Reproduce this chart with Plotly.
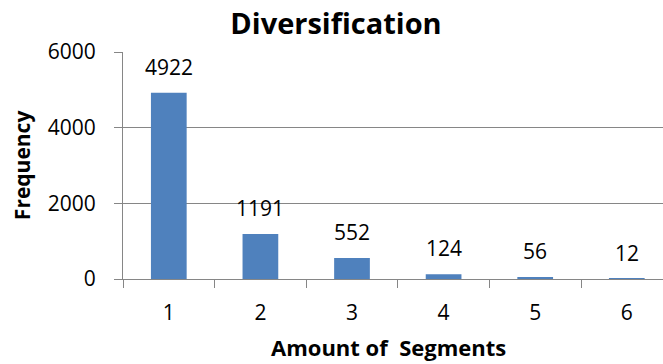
import plotly.graph_objects as go

categories = ["1", "2", "3", "4", "5", "6"]
frequency = [4922, 1191, 552, 124, 56, 12]
y_ticks = [0, 2000, 4000, 6000]

W, H = 663, 364
L, T, B = 123, 52, 85.3
GRAY = "#868686"
FONT = "Open Sans"

fig = go.Figure()
fig.add_trace(go.Bar(
    x=categories, y=frequency,
    marker=dict(color="#4F81BD", line=dict(width=0)),
    width=0.39,
))

for i, v in enumerate(frequency):
    fig.add_annotation(x=i, y=v, text=str(v), showarrow=False,
                       yanchor="middle", xanchor="center", yshift=26,
                       font=dict(family=FONT, size=21, color="#000000"))

fig.update_layout(
    width=W, height=H,
    margin=dict(l=L, r=0, t=T, b=B, pad=0),
    paper_bgcolor="white", plot_bgcolor="white",
    showlegend=False,
    title=dict(text="<b>Diversification</b>", x=336 / W, xanchor="center",
               y=1 - 24 / H, yanchor="middle", xref="container",
               yref="container",
               font=dict(family=FONT, size=29, color="#000000")),
    font=dict(family=FONT, size=21, color="#000000"),
    xaxis=dict(
        type="category", range=[-0.5, -0.5 + (W - L) / 91.6],
        showline=True, linecolor=GRAY, linewidth=1,
        ticks="outside", ticklen=8, tickcolor=GRAY, tickwidth=1,
        tickson="boundaries", showgrid=False, zeroline=False,
        ticklabelstandoff=15,
        tickfont=dict(family=FONT, size=21, color="#000000"),
    ),
    yaxis=dict(
        range=[0, 6000], tickvals=y_ticks,
        showline=True, linecolor=GRAY, linewidth=1,
        ticks="outside", ticklen=8, tickcolor=GRAY, tickwidth=1,
        showgrid=True, gridcolor=GRAY, gridwidth=1, zeroline=False,
        ticklabelstandoff=14,
        tickfont=dict(family=FONT, size=21, color="#000000"),
    ),
)

fig.add_annotation(text="<b>Frequency</b>", xref="paper", yref="paper",
                   x=-(L - 22) / (W - L), y=(H - B - 165) / (H - T - B),
                   textangle=-90, showarrow=False, xanchor="center", yanchor="middle",
                   font=dict(family=FONT, size=21, color="#000000"))
fig.add_annotation(text="<b>Amount of  Segments</b>", xref="paper", yref="paper",
                   x=(388 - L) / (W - L), y=-(347 - (H - B)) / (H - T - B),
                   showarrow=False, xanchor="center", yanchor="middle",
                   font=dict(family=FONT, size=22, color="#000000"))

fig.write_html("out.html")
